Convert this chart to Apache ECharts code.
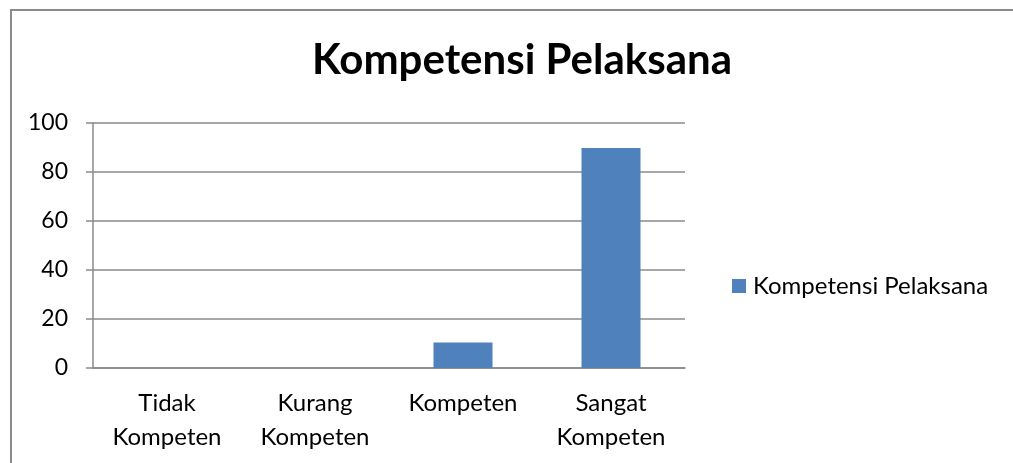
<!DOCTYPE html>
<html>
<head>
<meta charset="utf-8">
<script src="https://cdn.jsdelivr.net/npm/echarts@6/dist/echarts.min.js"></script>
<style>
	html, body { margin: 0; padding: 0; background: #fff; }
	.frame { position: absolute; left: 10px; top: 9px; width: 1100px; height: 600px; border: 2px solid #8a8a8a; }
	#chart { position: absolute; left: 0; top: 0; width: 1013px; height: 463px; }
</style>
</head>
<body>
<div class="frame"></div>
<div id="chart"></div>
<script>
	var categories = ['Tidak\nKompeten', 'Kurang\nKompeten', 'Kompeten', 'Sangat\nKompeten'];
	var values = [0, 0, 10.4, 89.8];
	var seriesName = 'Kompetensi Pelaksana';
	var chartTitle = 'Kompetensi Pelaksana';

	var FONT = 'Lato';
	var myChart = echarts.init(document.getElementById('chart'));
	var option = {
		animation: false,
		title: {
			text: chartTitle,
			left: 517,
			top: 34,
			textAlign: 'center',
			textStyle: { fontFamily: FONT, fontWeight: 'bold', fontSize: 42, color: '#000' }
		},
		legend: {
			data: [seriesName],
			left: 727,
			top: 269,
			icon: 'rect',
			itemWidth: 14,
			itemHeight: 14,
			textStyle: { fontFamily: FONT, fontSize: 24, color: '#000', padding: [0, 0, 0, 2] }
		},
		grid: { left: 93, right: 328, top: 123, bottom: 95 },
		xAxis: {
			type: 'category',
			data: categories,
			axisLine: { lineStyle: { color: '#8a8a8a', width: 1.5 } },
			axisTick: { length: 7, lineStyle: { color: '#8a8a8a', width: 1.5 } },
			axisLabel: { fontFamily: FONT, fontSize: 24, color: '#000', margin: 18, lineHeight: 34 }
		},
		yAxis: {
			type: 'value',
			min: 0,
			max: 100,
			interval: 20,
			axisLine: { show: true, lineStyle: { color: '#8a8a8a', width: 1.5 } },
			axisTick: { show: true, length: 7, lineStyle: { color: '#8a8a8a', width: 1.5 } },
			splitLine: { lineStyle: { color: '#8a8a8a', width: 1.5 } },
			axisLabel: { fontFamily: FONT, fontSize: 23, color: '#000', margin: 25 }
		},
		series: [{
			name: seriesName,
			type: 'bar',
			data: values,
			barWidth: 59,
			itemStyle: { color: '#4f81bd' }
		}]
	};
	myChart.setOption(option);
</script>
</body>
</html>
